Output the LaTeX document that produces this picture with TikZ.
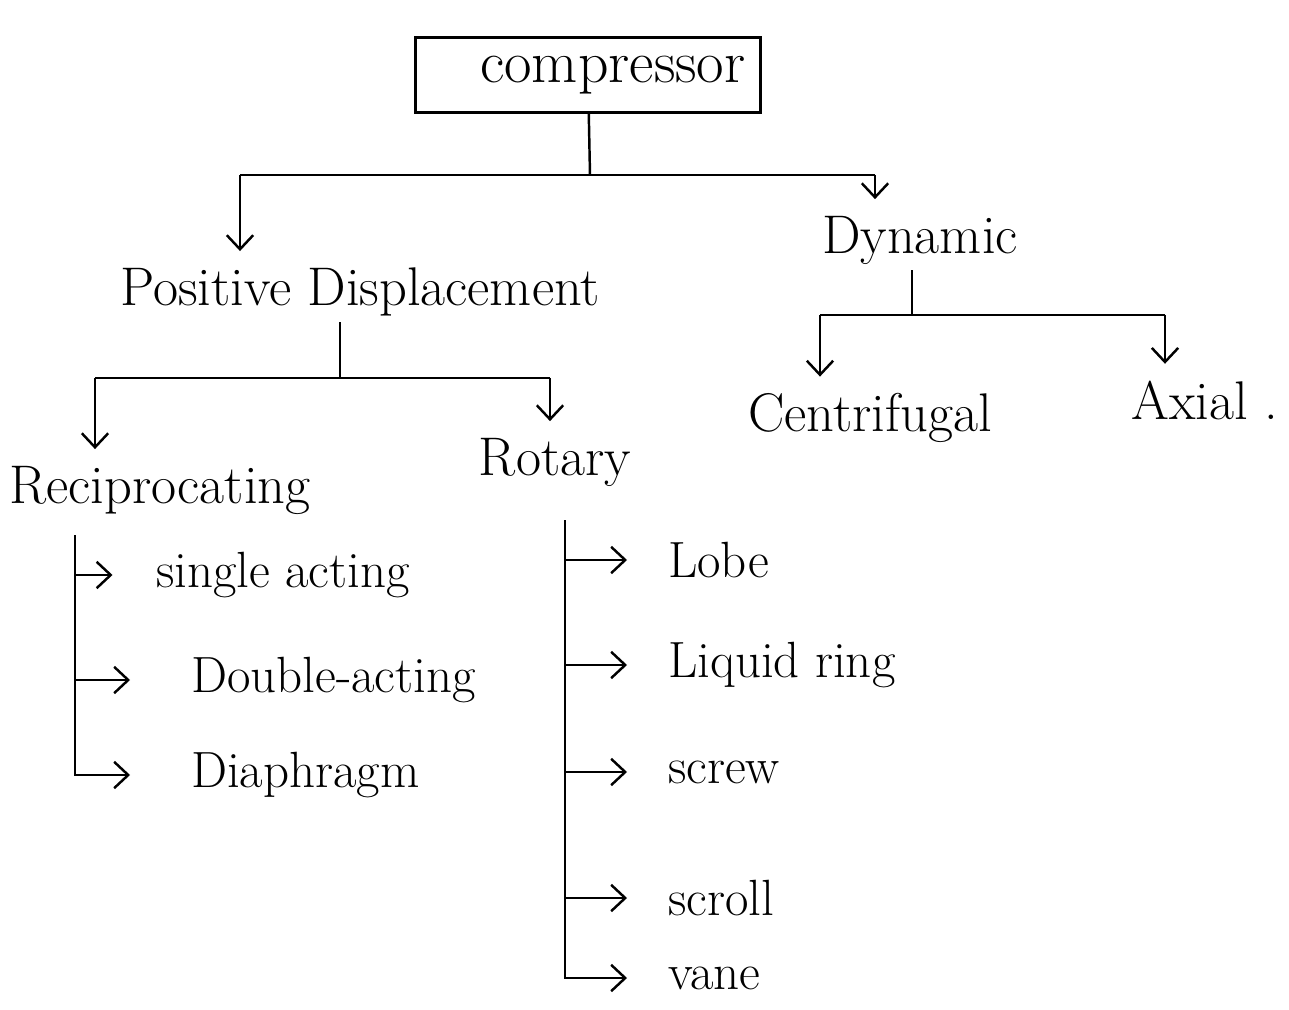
\documentclass[tikz,border=0pt]{standalone}
\usetikzlibrary{arrows.meta}
\tikzset{
every node/.style={ % Sets the text size of every label
font=\fontsize{31}{36}\selectfont},
box/.style={draw, line width=1.4pt, minimum width=6.9cm, minimum height=1.5cm,
font=\fontsize{34}{38}\selectfont},
item/.style={anchor=west, font=\fontsize{29}{34}\selectfont},
link/.style={ % Plain tree lines
draw,
line width=1.4pt},
arr/.style={ % Open hand-drawn style arrow heads
link,
-{Straight Barb[length=8pt,width=15pt,line width=1.4pt]},
shorten >=6pt}}

\begin{document}
\begin{tikzpicture}[x=0.02cm, y=-0.02cm]
	\useasboundingbox (0,0) rectangle (1289,1010);
	\node[box, text width=6.3cm, align=right] (comp) at (588,75) {compressor};
	\node (pd) at (360,292) {Positive Displacement};
	\node (dyn) at (920,240) {Dynamic};
	\node (rec) at (160,490) {Reciprocating};
	\node (rot) at (555,462) {Rotary};
	\node (cen) at (870,418) {Centrifugal};
	\node (axi) at (1205,400) {Axial .};
	\node[item] (sa) at (150,575) {single acting};
	\node[item] (da) at (185,680) {Double-acting};
	\node[item] (dia) at (185,775) {Diaphragm};
	\node[item] (lobe) at (662,560) {Lobe};
	\node[item] (liq) at (662,665) {Liquid ring};
	\node[item] (scr) at (662,772) {screw};
	\node[item] (scl) at (662,898) {scroll};
	\node[item] (vane) at (662,978) {vane};
	% junctions of the tree
	\coordinate (j1) at (590,175);
	\coordinate (l1) at (240,175);
	\coordinate (r1) at (875,175);
	\coordinate (j2) at (340,378);
	\coordinate (l2) at (95,378);
	\coordinate (r2) at (550,378);
	\coordinate (j3) at (912,315);
	\coordinate (l3) at (820,315);
	\coordinate (r3) at (1165,315);
	\coordinate (rt) at (75,535);
	\coordinate (ot) at (565,520);
	\draw[link] (comp) -- (j1);
	\draw[link] (l1) -- (r1);
	\draw[arr] (l1) -- (l1 |- pd.north);
	\draw[arr] (r1) -- (r1 |- dyn.north);
	\draw[link] (j2 |- pd.south) -- (j2);
	\draw[link] (l2) -- (r2);
	\draw[arr] (l2) -- (l2 |- rec.north);
	\draw[arr] (r2) -- (r2 |- rot.north);
	\draw[link] (j3 |- dyn.south) -- (j3);
	\draw[link] (l3) -- (r3);
	\draw[arr] (l3) -- (l3 |- cen.north);
	\draw[arr] (r3) -- (r3 |- axi.north);
	\draw[arr, shorten >=0.75cm] (rt |- sa) -- (sa);
	\draw[arr, shorten >=1.1cm] (rt |- da) -- (da);
	\draw[arr, shorten >=1.1cm] (rt) |- (dia);
	\draw[arr, shorten >=0.7cm] (ot |- lobe) -- (lobe);
	\draw[arr, shorten >=0.7cm] (ot |- liq) -- (liq);
	\draw[arr, shorten >=0.7cm] (ot |- scr) -- (scr);
	\draw[arr, shorten >=0.7cm] (ot |- scl) -- (scl);
	\draw[arr, shorten >=0.7cm] (ot) |- (vane);
\end{tikzpicture}
\end{document}
